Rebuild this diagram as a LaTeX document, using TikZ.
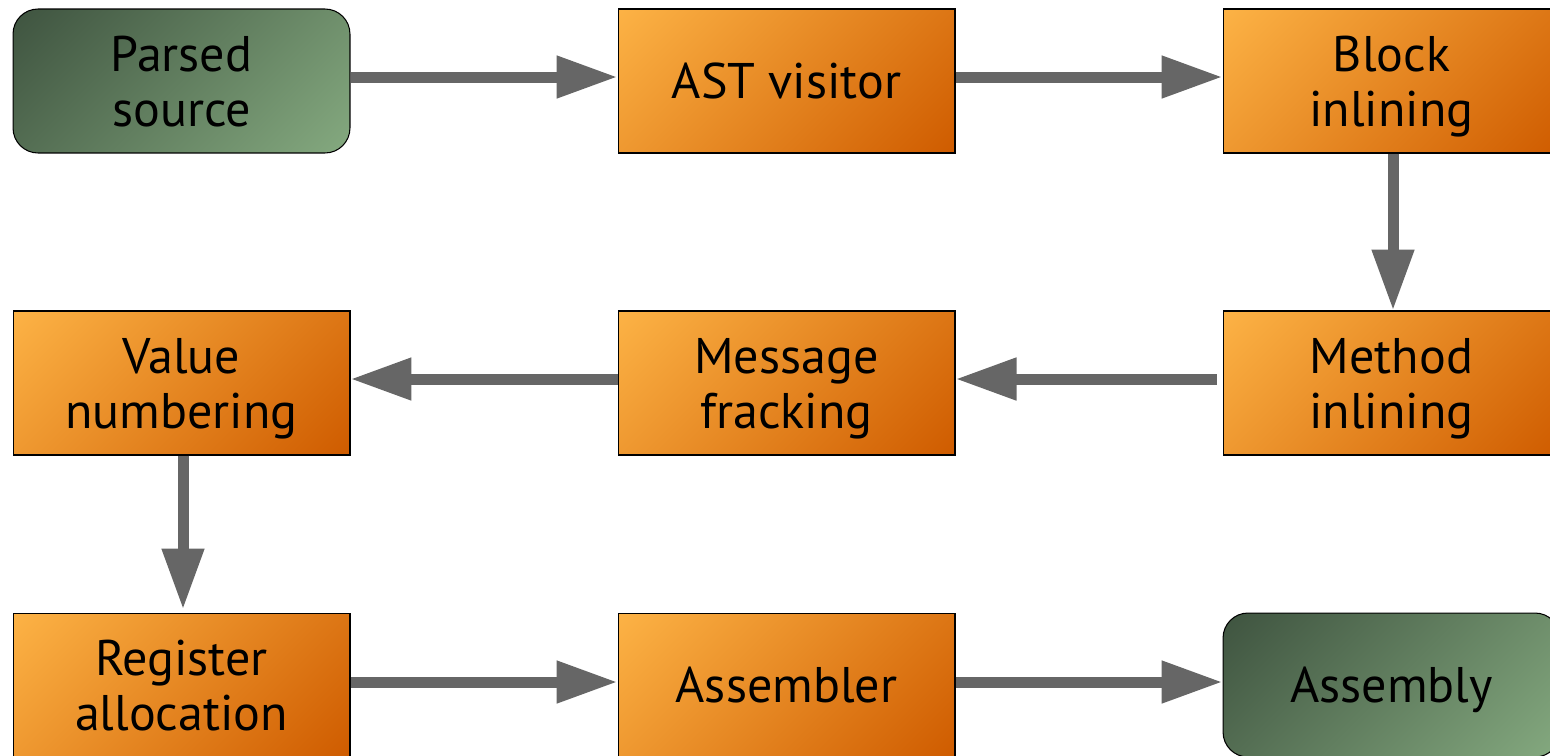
\documentclass[tikz,border=0pt]{standalone}
\usepackage{fontspec}
\setmainfont{PT Sans}
\usetikzlibrary{arrows.meta}
\definecolor{orL}{HTML}{FCB245}
\definecolor{orD}{HTML}{CF5C00}
\definecolor{grD}{HTML}{3F5440}
\definecolor{grL}{HTML}{84A97F}
\definecolor{arr}{HTML}{666666}
\pgfdeclareverticalshading{orsh}{100bp}{color(0bp)=(orD); color(15bp)=(orD); color(85bp)=(orL); color(100bp)=(orL)}
\pgfdeclareverticalshading{grsh}{100bp}{color(0bp)=(grL); color(15bp)=(grL); color(85bp)=(grD); color(100bp)=(grD)}
\newcommand{\lbl}[1]{\raisebox{0pt}[\dimexpr\height+0.28cm\relax][\depth]{\begin{tabular}{@{}c@{}}#1\end{tabular}}}
\tikzset{
  stage/.style={draw=black, line width=0.6pt, minimum width=6.74cm, minimum height=2.88cm,
    shading=orsh, shading angle=45,
    font=\fontsize{28.5}{31}\selectfont, inner sep=0pt},
  term/.style={stage, rounded corners=0.5cm, shading=grsh, shading angle=45},
  flow/.style={draw=arr, line width=0.22cm, -{Triangle[length=1.22cm,width=0.8cm]}, arr}
}
\begin{document}
\begin{tikzpicture}[x=0.02cm,y=-0.02cm]
\clip (0,0) rectangle (1550,755);
\fill[white] (0,0) rectangle (1550,755);
\node[term]  (ps)  at (181.5,81) {\lbl{Parsed\\source}};
\node[stage] (ast) at (786.5,81) {\lbl{AST visitor}};
\node[stage] (bi)  at (1391.5,81) {\lbl{Block\\inlining}};
\node[stage] (mi)  at (1391.5,383) {\lbl{Method\\inlining}};
\node[stage] (mf)  at (786.5,383) {\lbl{Message\\fracking}};
\node[stage] (vn)  at (181.5,383) {\lbl{Value\\numbering}};
\node[stage] (ra)  at (181.5,685) {\lbl{Register\\allocation}};
\node[stage] (as)  at (786.5,685) {\lbl{Assembler}};
\node[term]  (ay)  at (1391.5,685) {\lbl{Assembly}};
\draw[flow] ([yshift=0.08cm]ps.east) -- ([yshift=0.08cm]ast.west);
\draw[flow] ([yshift=0.08cm]ast.east) -- ([yshift=0.08cm]bi.west);
\draw[flow] ([xshift=0.03cm]bi.south) -- ([xshift=0.03cm]mi.north);
\draw[flow] ([yshift=0.08cm,xshift=-0.12cm]mi.west) -- ([yshift=0.08cm]mf.east);
\draw[flow] ([yshift=0.08cm]mf.west) -- ([yshift=0.08cm]vn.east);
\draw[flow] ([xshift=0.03cm]vn.south) -- ([xshift=0.03cm,yshift=0.06cm]ra.north);
\draw[flow] ([yshift=0.06cm]ra.east) -- ([yshift=0.06cm]as.west);
\draw[flow] ([yshift=0.06cm]as.east) -- ([yshift=0.06cm]ay.west);
\end{tikzpicture}
\end{document}
